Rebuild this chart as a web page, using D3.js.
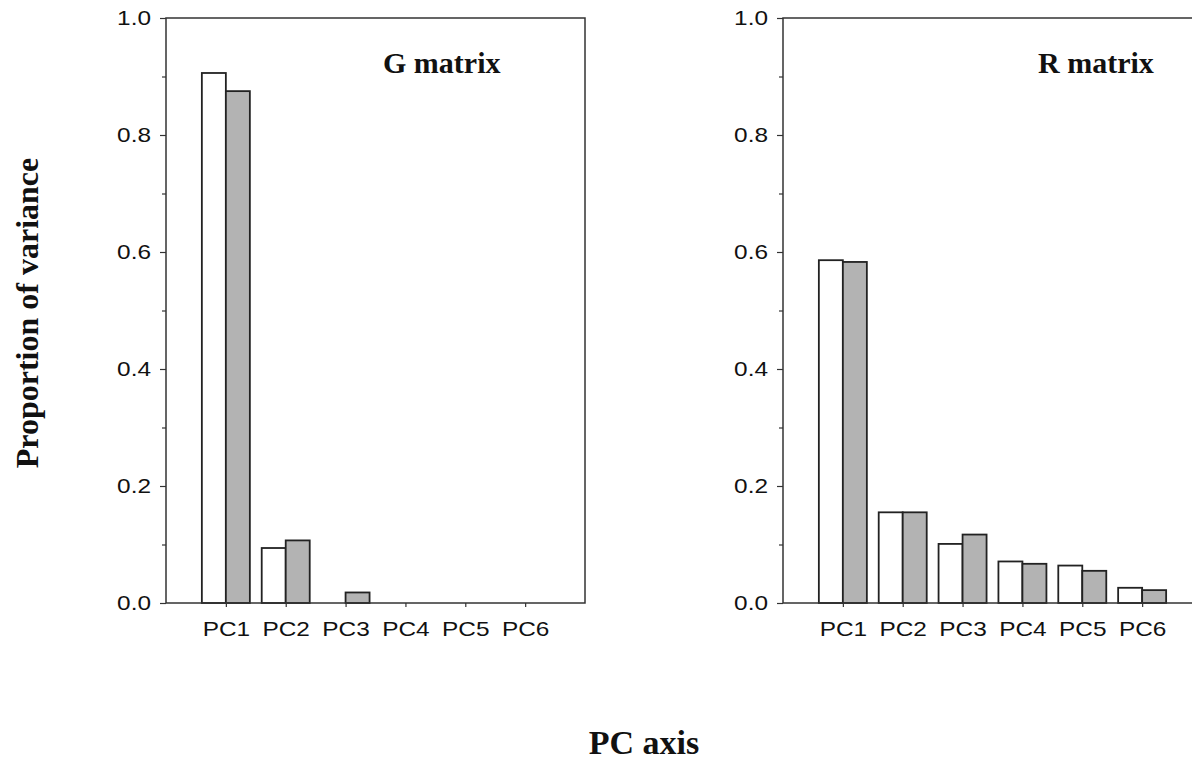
<!DOCTYPE html>
<html>
<head>
<meta charset="utf-8">
<script src="https://cdn.jsdelivr.net/npm/d3@7"></script>
<style>
  body { margin: 0; background: #fff; }
  svg { display: block; }
  .tick text { font-family: "Liberation Sans", Arial, sans-serif; fill: #111; }
  .title { font-family: "Liberation Serif", "Times New Roman", serif; font-weight: bold; fill: #111; }
</style>
</head>
<body>
<div id="chart"></div>
<script>
const width = 1192;
const height = 763;

// data
const components = ["PC1", "PC2", "PC3", "PC4", "PC5", "PC6"];
const gWhite = [0.906, 0.094, 0.0, 0.0, 0.0, 0.0];
const gGrey = [0.875, 0.107, 0.018, 0.0, 0.0, 0.0];
const rWhite = [0.586, 0.155, 0.101, 0.071, 0.064, 0.026];
const rGrey = [0.583, 0.155, 0.117, 0.067, 0.055, 0.022];
const yTicks = [0, 0.1, 0.2, 0.3, 0.4, 0.5, 0.6, 0.7, 0.8, 0.9, 1.0];

const panelW = 419;
const panelH = 585;
const barW = 24;
const stretch = 1.22; // tick labels in the figure are horizontally wide

const svg = d3
  .select("#chart")
  .append("svg")
  .attr("width", width)
  .attr("height", height);

const y = d3.scaleLinear().domain([0, 1]).range([panelH, 0]);
const x = d3.scalePoint().domain(components).range([0, panelW]).padding(1);

function drawPanel(left, top, white, grey, title, titleX) {
  const g = svg.append("g").attr("transform", "translate(" + left + "," + top + ")");

  // white bars to the left of the tick, grey to the right
  g.selectAll("rect.white")
    .data(white)
    .enter()
    .append("rect")
    .attr("class", "white")
    .attr("x", (d, i) => x(components[i]) - barW)
    .attr("y", (d) => y(d))
    .attr("width", barW)
    .attr("height", (d) => y(0) - y(d))
    .attr("fill", "#fff")
    .attr("stroke", "#222")
    .attr("stroke-width", 1.8);

  g.selectAll("rect.grey")
    .data(grey)
    .enter()
    .append("rect")
    .attr("class", "grey")
    .attr("x", (d, i) => x(components[i]))
    .attr("y", (d) => y(d))
    .attr("width", barW)
    .attr("height", (d) => y(0) - y(d))
    .attr("fill", "#b3b3b3")
    .attr("stroke", "#222")
    .attr("stroke-width", 1.8);

  // frame
  g.append("rect")
    .attr("x", 0)
    .attr("y", 0)
    .attr("width", panelW)
    .attr("height", panelH)
    .attr("fill", "none")
    .attr("stroke", "#333")
    .attr("stroke-width", 1.5);

  // y axis
  const yAxis = g
    .append("g")
    .call(
      d3.axisLeft(y)
        .tickValues(yTicks)
        .tickSizeOuter(0)
        .tickFormat((d) => (Math.round(d * 10) % 2 === 0 ? d3.format(".1f")(d) : ""))
    );
  yAxis.select(".domain").remove();
  yAxis.selectAll(".tick line")
    .attr("stroke", "#333")
    .attr("stroke-width", 1.2)
    .attr("x2", (d) => (Math.round(d * 10) % 2 === 0 ? -6 : -4));
  yAxis.selectAll(".tick text")
    .attr("font-size", 20)
    .attr("x", -15 / stretch)
    .attr("transform", "scale(" + stretch + ",1)");

  // x axis
  const xAxis = g
    .append("g")
    .attr("transform", "translate(0," + panelH + ")")
    .call(d3.axisBottom(x).tickSize(4).tickSizeOuter(0));
  xAxis.select(".domain").remove();
  xAxis.selectAll(".tick line").attr("stroke", "#333").attr("stroke-width", 1.2);
  xAxis.selectAll(".tick text")
    .attr("font-size", 20)
    .attr("y", 19)
    .attr("transform", "scale(" + stretch + ",1)");

  g.append("text")
    .attr("class", "title")
    .attr("x", titleX)
    .attr("y", 55)
    .attr("font-size", 30)
    .text(title);
}

drawPanel(166, 18, gWhite, gGrey, "G matrix", 217);
drawPanel(783, 18, rWhite, rGrey, "R matrix", 255);

svg.append("text")
  .attr("class", "title")
  .attr("transform", "translate(38,313) rotate(-90)")
  .attr("text-anchor", "middle")
  .attr("font-size", 32)
  .text("Proportion of variance");

svg.append("text")
  .attr("class", "title")
  .attr("x", 644)
  .attr("y", 754)
  .attr("text-anchor", "middle")
  .attr("font-size", 34)
  .text("PC axis");
</script>
</body>
</html>
